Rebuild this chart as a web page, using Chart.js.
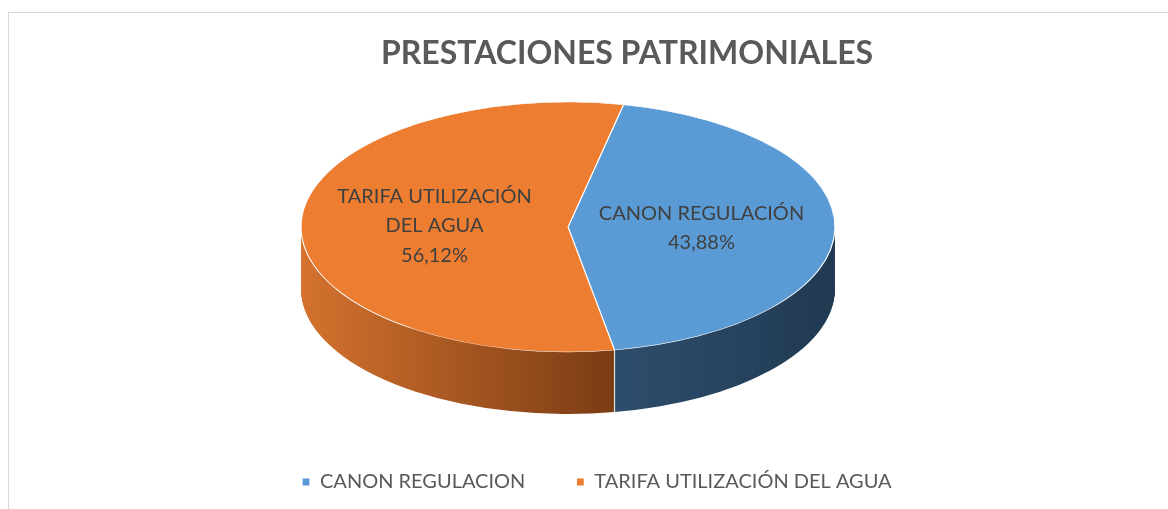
<!DOCTYPE html>
<html>
<head>
<meta charset="utf-8">
<script src="https://cdn.jsdelivr.net/npm/chart.js@4.4.0/dist/chart.umd.min.js"></script>
<style>
  html, body { margin: 0; padding: 0; background: #fff; overflow: hidden; }
  #wrap { position: relative; width: 1168px; height: 509px; }
  #marco { position: absolute; left: 8px; top: 12px; width: 1200px; height: 600px; border: 1px solid #d9d9d9; box-sizing: border-box; }
  canvas { position: absolute; left: 0; top: 0; }
</style>
</head>
<body>
<div id="wrap">
  <div id="marco"></div>
  <canvas id="prestacionesChart" width="1168" height="509"></canvas>
</div>
<script>
// Datos del gráfico
const categorias = ["CANON REGULACION", "TARIFA UTILIZACIÓN DEL AGUA"];
const etiquetasSector = [["CANON REGULACIÓN"], ["TARIFA UTILIZACIÓN", "DEL AGUA"]];
const porcentajes = [43.88, 56.12];

// Estilo
const colores = ["#5B9BD5", "#ED7D31"];
const coloresLateral = [["#2e4d6c", "#213a52"], ["#d4722e", "#7a3c14"]];
const RADIO = 267;             // semieje horizontal
const INCLINACION = 125 / 267; // aplastamiento vertical del pastel
const GROSOR = 62;             // profundidad 3D

function formatoPct(v) {
  return v.toFixed(2).replace('.', ',') + '%';
}

function aplicarInclinacion(ctx, cx, cy) {
  ctx.translate(cx, cy);
  ctx.scale(1, INCLINACION);
  ctx.translate(-cx, -cy);
}

// Plugin: dibuja el lateral 3D y aplasta la cara superior
const pastel3D = {
  id: 'pastel3D',
  beforeDatasetDraw(chart, args) {
    const ctx = chart.ctx;
    const arcs = args.meta.data;
    if (!arcs.length) return;
    const cx = arcs[0].x, cy = arcs[0].y, r = arcs[0].outerRadius;

    // degradados del lateral, según la parte frontal de cada sector
    const grads = arcs.map((arc, i) => {
      let minX = Infinity, maxX = -Infinity;
      for (let t = 0; t <= 80; t++) {
        const a = arc.startAngle + (arc.endAngle - arc.startAngle) * t / 80;
        if (Math.sin(a) >= 0) {
          const x = cx + r * Math.cos(a);
          minX = Math.min(minX, x);
          maxX = Math.max(maxX, x);
        }
      }
      if (!isFinite(minX)) { minX = cx - r; maxX = cx + r; }
      const g = ctx.createLinearGradient(minX, 0, maxX, 0);
      g.addColorStop(0, coloresLateral[i][0]);
      g.addColorStop(1, coloresLateral[i][1]);
      return g;
    });

    ctx.save();
    for (let d = GROSOR; d >= 1; d--) {
      ctx.save();
      ctx.translate(0, d - GROSOR / 2);
      aplicarInclinacion(ctx, cx, cy);
      arcs.forEach((arc, i) => {
        const o = arc.options;
        arc.options = Object.assign({}, o, { backgroundColor: grads[i], borderWidth: 0 });
        arc.draw(ctx);
        arc.options = o;
      });
      ctx.restore();
    }

    // juntas visibles en el lateral
    ctx.strokeStyle = 'rgba(255,255,255,0.85)';
    ctx.lineWidth = 1.2;
    arcs.forEach(arc => {
      const a = arc.startAngle;
      if (Math.sin(a) > 0) {
        const x = cx + r * Math.cos(a);
        const y = cy + r * Math.sin(a) * INCLINACION - GROSOR / 2;
        ctx.beginPath();
        ctx.moveTo(x, y);
        ctx.lineTo(x, y + GROSOR);
        ctx.stroke();
      }
    });

    ctx.translate(0, -GROSOR / 2);
    aplicarInclinacion(ctx, cx, cy);
  },
  afterDatasetDraw(chart) {
    chart.ctx.restore();
  }
};

// Plugin: etiquetas de datos dentro de cada sector
const etiquetas = {
  id: 'etiquetas',
  afterDatasetsDraw(chart) {
    const ctx = chart.ctx;
    const meta = chart.getDatasetMeta(0);
    meta.data.forEach((arc, i) => {
      const p = arc.getCenterPoint();
      const x = p.x;
      const y = arc.y + (p.y - arc.y) * INCLINACION - GROSOR / 2;
      const lineas = etiquetasSector[i].concat([formatoPct(porcentajes[i])]);
      const lh = 29.5;
      ctx.save();
      ctx.font = '20px Lato';
      ctx.fillStyle = '#404040';
      ctx.textAlign = 'center';
      ctx.textBaseline = 'middle';
      lineas.forEach((t, j) => {
        ctx.fillText(t, x, y + (j - (lineas.length - 1) / 2) * lh);
      });
      ctx.restore();
    });
  }
};

new Chart(document.getElementById('prestacionesChart'), {
  type: 'pie',
  data: {
    labels: categorias,
    datasets: [{
      data: porcentajes,
      backgroundColor: colores,
      borderColor: '#ffffff',
      borderWidth: 1.2,
      radius: RADIO,
      rotation: 12,
      clip: false
    }]
  },
  options: {
    responsive: false,
    animation: false,
    events: [],
    layout: { padding: { left: 251, right: 165, top: 0, bottom: 7 } },
    plugins: {
      title: {
        display: true,
        text: 'PRESTACIONES PATRIMONIALES',
        align: 'center',
        color: '#595959',
        font: { family: 'Lato', size: 32, weight: 'bold', lineHeight: 1.2 },
        padding: { top: 34.5, bottom: 22 }
      },
      // espacio vacío a la derecha para desplazar el pastel
      subtitle: {
        display: true,
        text: '',
        position: 'right',
        fullSize: false,
        font: { size: 10, lineHeight: 1 },
        padding: { top: 108, bottom: 0 }
      },
      legend: {
        position: 'bottom',
        align: 'start',
        labels: {
          boxWidth: 8,
          boxHeight: 8,
          padding: 51,
          color: '#595959',
          font: { family: 'Lato', size: 20 }
        }
      },
      tooltip: { enabled: false }
    }
  },
  plugins: [pastel3D, etiquetas]
});
</script>
</body>
</html>
